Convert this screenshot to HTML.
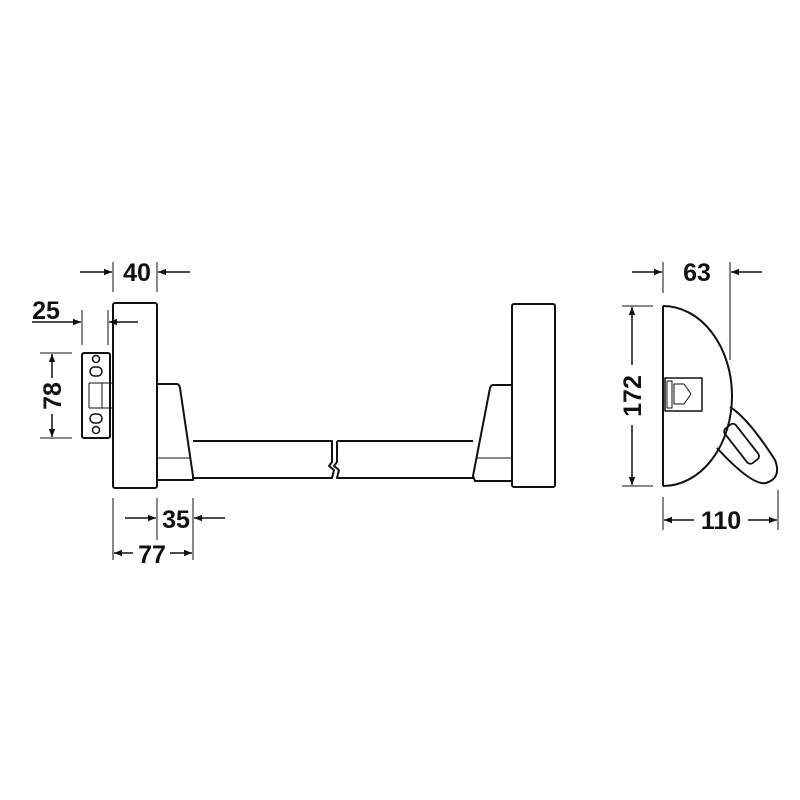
<!DOCTYPE html>
<html><head><meta charset="utf-8"><style>
html,body{margin:0;padding:0;background:#fff}
svg{display:block}
text{font-family:"Liberation Sans",Arial,sans-serif;font-weight:bold;font-size:25px;fill:#111}
</style></head><body>
<svg width="800" height="800" viewBox="0 0 800 800" xmlns="http://www.w3.org/2000/svg">
<defs>
<marker id="a" viewBox="0 0 10 10" refX="10" refY="5" markerWidth="16" markerHeight="8" markerUnits="userSpaceOnUse" orient="auto"><path d="M0,1 L10,5 L0,9 Z" fill="#111"/></marker>
</defs>
<g fill="none" stroke="#111" stroke-width="2" stroke-linejoin="round">
<rect x="113" y="303" width="44" height="185" rx="2"/>
<rect x="82" y="353" width="28" height="85" rx="2"/>
<rect x="110" y="383" width="3" height="25" stroke-width="1"/>
<line x1="89" y1="383" x2="110" y2="383" stroke-width="1"/>
<line x1="89" y1="408" x2="110" y2="408" stroke-width="1"/>
<line x1="89" y1="383" x2="89" y2="408" stroke-width="1"/>
<line x1="102" y1="383" x2="102" y2="408" stroke-width="1"/>
<circle cx="96" cy="359" r="3.5" stroke-width="1.5"/>
<rect x="90" y="367" width="12" height="9" rx="4.5" stroke-width="1.5"/>
<rect x="90" y="414" width="12" height="9" rx="4.5" stroke-width="1.5"/>
<circle cx="96" cy="430" r="3.5" stroke-width="1.5"/>
<path d="M157,384 L177,384 Q179,384 180,388 L193,476 L193,480 L157,480"/>
<line x1="157" y1="458" x2="190" y2="458" stroke-width="1"/>
<path d="M193,441 L332,441 L332,462 L329,466 L334,470 L332,478 L193,478"/>
<path d="M337,441 L473,441 M337,441 L337,462 L334,466 L339,470 L337,478 L473,478"/>
<path d="M512,385 L493,385 Q491,385 490,388 L473,476 L475,481 L512,481"/>
<line x1="476" y1="458" x2="512" y2="458" stroke-width="1"/>
<rect x="512" y="304" width="43" height="183" rx="2"/>
<line x1="663" y1="306" x2="663" y2="486"/>
<path d="M663,306 A69,90 0 0 1 663,486"/>
<rect x="665" y="378" width="37" height="33" stroke-width="1.5"/>
<rect x="667" y="381" width="5" height="27" stroke-width="1"/>
<path d="M674,384 L684,384 L691,394 L684,404 L674,404 Z" stroke-width="1"/>
<path d="M730,407 Q748,418 775,460 Q782,478 766,483 Q752,486 717,448"/>
<g transform="rotate(52 741 443)"><rect x="720" y="436" width="44" height="14" rx="4" stroke-width="1.8"/></g>
<g stroke-width="1">
<line x1="113" y1="262" x2="113" y2="292"/><line x1="157" y1="262" x2="157" y2="292"/>
<line x1="82" y1="310" x2="82" y2="345"/><line x1="108" y1="310" x2="108" y2="345"/>
<line x1="40" y1="353" x2="72" y2="353"/><line x1="40" y1="438" x2="72" y2="438"/>
<line x1="113" y1="498" x2="113" y2="560"/><line x1="157" y1="498" x2="157" y2="540"/><line x1="193" y1="498" x2="193" y2="560"/>
<line x1="663" y1="262" x2="663" y2="293"/><line x1="730" y1="262" x2="730" y2="360"/>
<line x1="622" y1="306" x2="653" y2="306"/><line x1="622" y1="486" x2="653" y2="486"/>
<line x1="663" y1="497" x2="663" y2="530"/><line x1="778" y1="490" x2="778" y2="530"/>
</g>
<g stroke-width="1.5">
<line x1="80" y1="272" x2="112" y2="272" marker-end="url(#a)"/>
<line x1="190" y1="272" x2="158" y2="272" marker-end="url(#a)"/>
<line x1="32" y1="322" x2="81" y2="322" marker-end="url(#a)"/>
<line x1="138" y1="322" x2="109" y2="322" marker-end="url(#a)"/>
<line x1="52" y1="378" x2="52" y2="354" marker-end="url(#a)"/>
<line x1="52" y1="414" x2="52" y2="437" marker-end="url(#a)"/>
<line x1="125" y1="518" x2="156" y2="518" marker-end="url(#a)"/>
<line x1="225" y1="518" x2="194" y2="518" marker-end="url(#a)"/>
<line x1="133" y1="553" x2="114" y2="553" marker-end="url(#a)"/>
<line x1="170" y1="553" x2="192" y2="553" marker-end="url(#a)"/>
<line x1="632" y1="272" x2="662" y2="272" marker-end="url(#a)"/>
<line x1="762" y1="272" x2="731" y2="272" marker-end="url(#a)"/>
<line x1="632" y1="365" x2="632" y2="307" marker-end="url(#a)"/>
<line x1="632" y1="425" x2="632" y2="485" marker-end="url(#a)"/>
<line x1="694" y1="520" x2="664" y2="520" marker-end="url(#a)"/>
<line x1="748" y1="520" x2="777" y2="520" marker-end="url(#a)"/>
</g>
</g>
<text x="137" y="281" text-anchor="middle">40</text>
<text x="46" y="319" text-anchor="middle">25</text>
<text x="176" y="528" text-anchor="middle">35</text>
<text x="152" y="563" text-anchor="middle">77</text>
<text x="697" y="281" text-anchor="middle">63</text>
<text x="721" y="529" text-anchor="middle">110</text>
<text transform="translate(61 396) rotate(-90)" text-anchor="middle">78</text>
<text transform="translate(641 396) rotate(-90)" text-anchor="middle">172</text>
</svg>
</body></html>
